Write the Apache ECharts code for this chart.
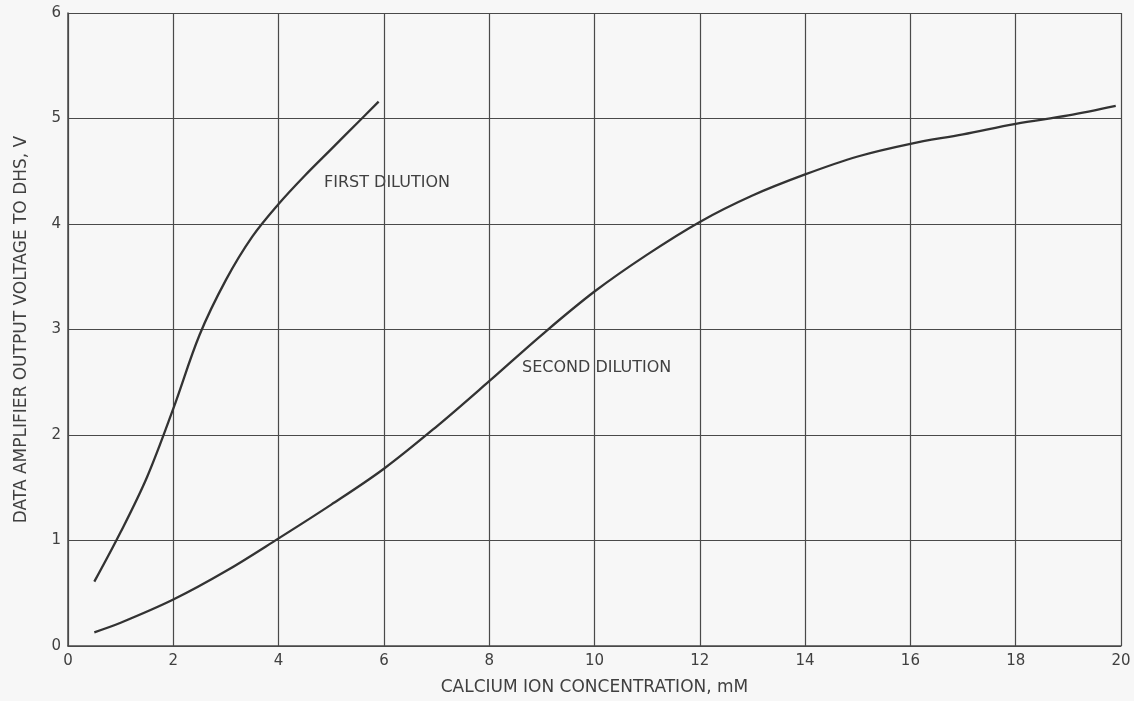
<!DOCTYPE html>
<html>
<head>
<meta charset="utf-8">
<script src="https://cdn.jsdelivr.net/npm/echarts@6/dist/echarts.min.js"></script>
<style>
html,body{margin:0;padding:0;background:#f7f7f7;}
#chart{width:1134px;height:701px;}
</style>
</head>
<body>
<div id="chart"></div>
<script>
const firstX = [0.5, 1.0, 1.5, 2.0, 2.5, 3.0, 3.5, 4.0, 4.5, 5.0, 5.5, 5.9];
const firstY = [0.61, 1.08, 1.6, 2.25, 2.95, 3.47, 3.88, 4.19, 4.46, 4.71, 4.96, 5.16];
const secondX = [0.5, 1, 2, 3, 4, 5, 6, 7, 8, 9, 10, 11, 12, 13, 14, 15, 16, 17, 18, 19, 19.9];
const secondY = [0.13, 0.22, 0.44, 0.71, 1.02, 1.34, 1.68, 2.08, 2.51, 2.95, 3.36, 3.71, 4.02, 4.27, 4.47, 4.64, 4.76, 4.85, 4.95, 5.03, 5.12];
const xTicks = [0, 2, 4, 6, 8, 10, 12, 14, 16, 18, 20];
const yTicks = [0, 1, 2, 3, 4, 5, 6];
const xTitle = 'CALCIUM ION CONCENTRATION, mM';
const yTitle = 'DATA AMPLIFIER OUTPUT VOLTAGE TO DHS, V';
const labels = ['FIRST DILUTION', 'SECOND DILUTION'];

const font = '"DejaVu Sans", sans-serif';
const textColor = '#404040';
const gridColor = '#4a4a4a';

const chart = echarts.init(document.getElementById('chart'));
const zip = (a, b) => a.map((v, i) => [v, b[i]]);

chart.setOption({
  backgroundColor: '#f7f7f7',
  animation: false,
  grid: { left: 68, right: 13, top: 13, bottom: 54 },
  xAxis: {
    type: 'value', min: xTicks[0], max: xTicks[xTicks.length - 1], interval: 2,
    name: xTitle, nameLocation: 'middle', nameGap: 33,
    nameTextStyle: { fontFamily: font, fontSize: 17, color: textColor },
    axisLine: { show: true, lineStyle: { color: gridColor, width: 1.5 } },
    axisTick: { show: false },
    axisLabel: { fontFamily: font, fontSize: 15, color: textColor, margin: 8 },
    splitLine: { show: true, lineStyle: { color: gridColor, width: 1.2 } }
  },
  yAxis: {
    type: 'value', min: yTicks[0], max: yTicks[yTicks.length - 1], interval: 1,
    name: yTitle, nameLocation: 'middle', nameGap: 38,
    nameTextStyle: { fontFamily: font, fontSize: 17, color: textColor },
    axisLine: { show: true, lineStyle: { color: gridColor, width: 1.5 } },
    axisTick: { show: false },
    axisLabel: { fontFamily: font, fontSize: 15, color: textColor, margin: 7 },
    splitLine: { show: true, lineStyle: { color: gridColor, width: 1.2 } }
  },
  series: [
    {
      type: 'line', data: zip(firstX, firstY), smooth: 0.35, symbol: 'none',
      lineStyle: { color: '#333', width: 2.3 }
    },
    {
      type: 'line', data: zip(secondX, secondY), smooth: 0.35, symbol: 'none',
      lineStyle: { color: '#333', width: 2.3 }
    }
  ],
  graphic: [
    { type: 'text', left: 324, top: 175, style: { text: labels[0], font: '16px ' + font, fill: textColor } },
    { type: 'text', left: 522, top: 360, style: { text: labels[1], font: '16px ' + font, fill: textColor } }
  ]
});
</script>
</body>
</html>
